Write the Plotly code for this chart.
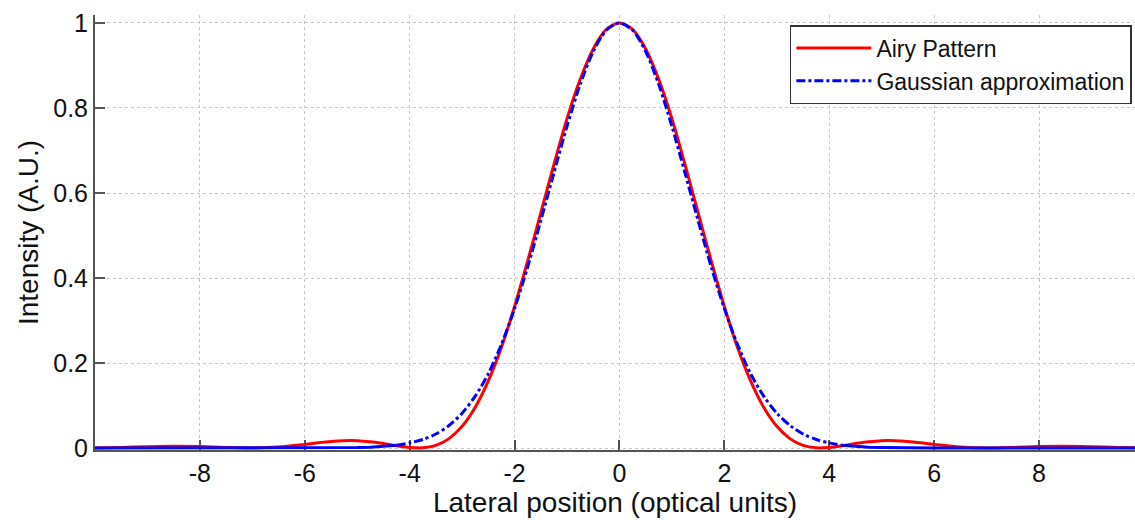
import plotly.graph_objects as go

# Lateral position (optical units)
x_pos = [-10, -9.5, -9, -8.5, -8, -7.5, -7, -6.5, -6, -5.75, -5.5, -5.25, -5, -4.75,
         -4.5, -4.25, -4, -3.75, -3.5, -3.25, -3, -2.75, -2.5, -2.25, -2, -1.75, -1.5,
         -1.25, -1, -0.75, -0.5, -0.25, 0, 0.25, 0.5, 0.75, 1, 1.25, 1.5, 1.75, 2,
         2.25, 2.5, 2.75, 3, 3.25, 3.5, 3.75, 4, 4.25, 4.5, 4.75, 5, 5.25, 5.5, 5.75,
         6, 6.5, 7, 7.5, 8, 8.5, 9, 9.5, 10]

airy = [0.0001, 0.0012, 0.0030, 0.0041, 0.0034, 0.0013, 0.0, 0.0022, 0.0085, 0.0122,
        0.0154, 0.0173, 0.0172, 0.0146, 0.0106, 0.0053, 0.0011, 0.0003, 0.006, 0.022,
        0.051, 0.096, 0.158, 0.237, 0.333, 0.440, 0.553, 0.667, 0.775, 0.867, 0.939,
        0.985, 1.0, 0.985, 0.939, 0.867, 0.775, 0.667, 0.553, 0.440, 0.333, 0.237,
        0.158, 0.096, 0.051, 0.022, 0.006, 0.0003, 0.0011, 0.0053, 0.0106, 0.0146,
        0.0172, 0.0173, 0.0154, 0.0122, 0.0085, 0.0022, 0.0, 0.0013, 0.0034, 0.0041,
        0.0030, 0.0012, 0.0001]

gauss = [0, 0, 0, 0, 0, 0, 0, 0, 0, 0.0001, 0.0002, 0.0005, 0.001, 0.0019, 0.0036,
         0.0065, 0.012, 0.020, 0.033, 0.053, 0.082, 0.122, 0.175, 0.244, 0.328, 0.426,
         0.535, 0.647, 0.757, 0.855, 0.933, 0.983, 1.0, 0.983, 0.933, 0.855, 0.757,
         0.647, 0.535, 0.426, 0.328, 0.244, 0.175, 0.122, 0.082, 0.053, 0.033, 0.020,
         0.012, 0.0065, 0.0036, 0.0019, 0.001, 0.0005, 0.0002, 0.0001, 0, 0, 0, 0, 0,
         0, 0, 0, 0]

x_ticks = [-8, -6, -4, -2, 0, 2, 4, 6, 8]
y_ticks = [0, 0.2, 0.4, 0.6, 0.8, 1]
y_tick_text = ["0", "0.2", "0.4", "0.6", "0.8", "1"]

FONT = "Liberation Sans, Arial, Helvetica, sans-serif"
TAIL = 4.25

fig = go.Figure()

fig.add_trace(go.Scatter(x=x_pos, y=airy, mode="lines", name="Airy Pattern",
                         line=dict(color="rgb(255,0,0)", width=3, shape="spline",
                                   smoothing=0.8)))

core_x = [x for x in x_pos if abs(x) <= TAIL]
core_y = [g for x, g in zip(x_pos, gauss) if abs(x) <= TAIL]
fig.add_trace(go.Scatter(x=core_x, y=core_y, mode="lines", name="Gaussian approximation",
                         legendgroup="g",
                         line=dict(color="rgb(0,0,255)", width=3, dash="dashdot",
                                   shape="spline", smoothing=0.8)))

# Gaussian tails (solid-looking at zero level)
for side in (-1, 1):
    xs = [x for x in x_pos if side * x >= TAIL]
    ys = [g for x, g in zip(x_pos, gauss) if side * x >= TAIL]
    fig.add_trace(go.Scatter(x=xs, y=ys, mode="lines", showlegend=False,
                             legendgroup="g", hoverinfo="skip",
                             line=dict(color="rgb(0,0,255)", width=3)))

axis_common = dict(showline=True, linecolor="#555555", ticks="inside",
                   tickcolor="#555555", tickwidth=1.5, ticklen=10, zeroline=False,
                   showgrid=True, gridcolor="#c8c8c8", gridwidth=1, griddash="dot",
                   tickfont=dict(family=FONT, size=25, color="#111111"), mirror=False,
                   layer="below traces")

fig.update_xaxes(range=[-10, 9.83], tickvals=x_ticks, linewidth=1.5,
                 ticktext=[str(v) for v in x_ticks],
                 title=dict(text="Lateral position (optical units)",
                            font=dict(family=FONT, size=28, color="#111111"), standoff=4),
                 **axis_common)
fig.update_yaxes(range=[-0.0047, 1.0188], tickvals=y_ticks, ticktext=y_tick_text,
                 linewidth=2,
                 title=dict(text="Intensity (A.U.)",
                            font=dict(family=FONT, size=28, color="#111111"), standoff=6),
                 ticklabelstandoff=0, **axis_common)

fig.update_layout(
    width=1135, height=520,
    margin=dict(l=95, r=0, t=15, b=70, pad=0),
    paper_bgcolor="white", plot_bgcolor="white",
    font=dict(family=FONT, color="#111111"),
    legend=dict(x=0.997, xanchor="right", y=0.977, yanchor="top",
                bgcolor="white", bordercolor="#333333", borderwidth=1.5,
                font=dict(family=FONT, size=23, color="#111111"),
                itemwidth=75, tracegroupgap=0),
    showlegend=True,
)

fig.write_html("out.html")
